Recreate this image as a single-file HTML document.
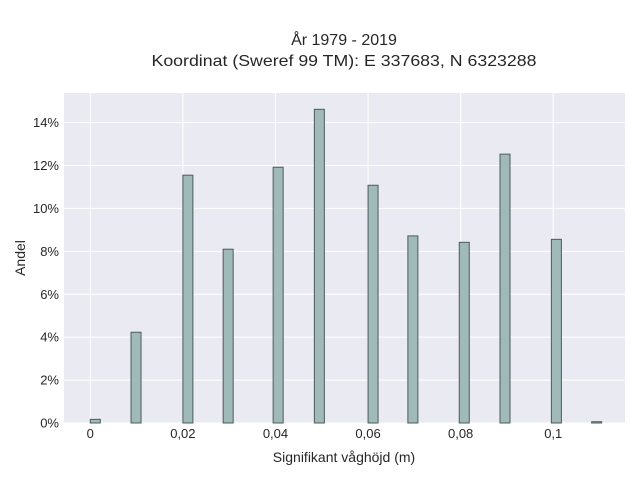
<!DOCTYPE html>
<html><head><meta charset="utf-8"><style>
body{margin:0;background:#fff;}
svg text{font-family:"Liberation Sans",sans-serif;fill:#262626;}
</style></head><body>
<svg id="chart" width="640" height="480" xmlns="http://www.w3.org/2000/svg">
<text x="344" y="45" font-size="16" text-anchor="middle">År 1979 - 2019</text>
<text x="344" y="66" font-size="16" text-anchor="middle" textLength="385" lengthAdjust="spacingAndGlyphs">Koordinat (Sweref 99 TM): E 337683, N 6323288</text>
<rect x="64" y="93" width="561" height="330" fill="#eaeaf2"/>
<g id="grid"></g>
<g id="bars"></g>
<g id="ticks"></g>
<text x="344" y="462" font-size="14" text-anchor="middle">Signifikant våghöjd (m)</text>
<text x="25" y="258" font-size="14" text-anchor="middle" transform="rotate(-90 25 258)">Andel</text>
</svg>
<script>
const binStarts=[0,0.0088,0.02,0.0287,0.0395,0.0484,0.06,0.0686,0.0797,0.0885,0.0996,0.1083];
const shares=[0.17,4.23,11.55,8.10,11.92,14.62,11.08,8.72,8.42,12.53,8.56,0.06];
const binWidth=0.00216;
const xTicks=[0,0.02,0.04,0.06,0.08,0.1];
const xTickLabels=["0","0,02","0,04","0,06","0,08","0,1"];
const yTicks=[0,2,4,6,8,10,12,14];
const yTickLabels=["0%","2%","4%","6%","8%","10%","12%","14%"];
const NS="http://www.w3.org/2000/svg";
const X0=64,X1=625,Y0=423,Y1=93;
const xMin=-0.00568,xMax=0.1155,yMin=0,yMax=15.38;
function xs(v){return X0+(v-xMin)/(xMax-xMin)*(X1-X0);}
function ys(v){return Y0-(v-yMin)/(yMax-yMin)*(Y0-Y1);}
function mk(t,a,p){const e=document.createElementNS(NS,t);for(const k in a)e.setAttribute(k,a[k]);p.appendChild(e);return e;}
const grid=document.getElementById('grid'),bars=document.getElementById('bars'),ticks=document.getElementById('ticks');
xTicks.forEach((v,i)=>{
 const l=mk('line',{x1:xs(v),x2:xs(v),y1:Y1,y2:Y0,stroke:'#fff','stroke-width':1},grid);
 
 
 const t=mk('text',{x:xs(v),y:438,'font-size':13,'text-anchor':'middle'},ticks);
 t.textContent=xTickLabels[i];
 
 
});
yTicks.forEach((v,i)=>{
 const l=mk('line',{x1:X0,x2:X1,y1:ys(v),y2:ys(v),stroke:'#fff','stroke-width':1},grid);
 
 
 const t=mk('text',{x:59,y:ys(v)+4.5,'font-size':13,'text-anchor':'end'},ticks);
 t.textContent=yTickLabels[i];
 
 
});
binStarts.forEach((b,i)=>{
 const x=xs(b),w=xs(b+binWidth)-x,y=ys(shares[i]);
 const r=mk('rect',{x:x,y:y,width:w,height:Y0-y,fill:'#a0b9b9',stroke:'#4d5b5b','stroke-width':1},bars);
 
 
});
</script>
</body></html>
